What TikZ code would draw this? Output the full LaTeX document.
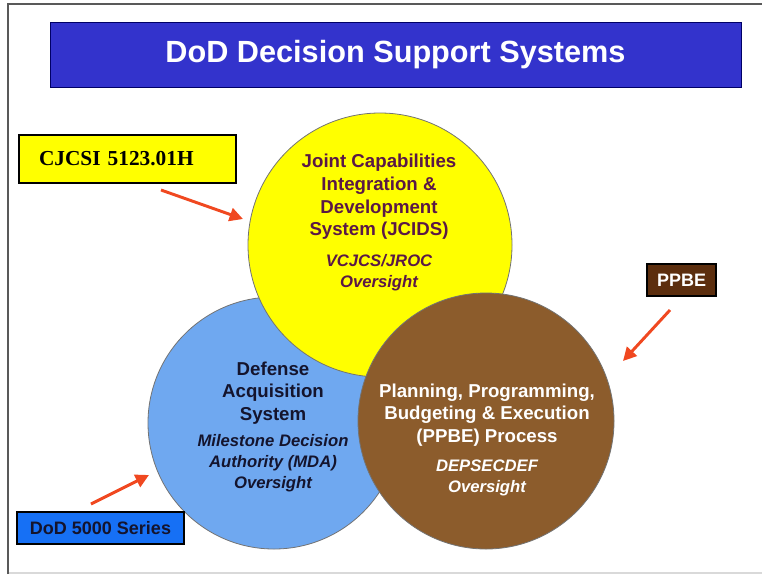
\documentclass[tikz,border=0pt]{standalone}
\usepackage{fontspec}
\setmainfont{Liberation Sans}
\newfontfamily\timesbold{Liberation Serif}
\usetikzlibrary{arrows.meta}
\definecolor{barblue}{RGB}{51,51,204}
\definecolor{jcidsyellow}{RGB}{255,255,0}
\definecolor{dasblue}{RGB}{111,168,240}
\definecolor{ppbebrown}{RGB}{140,92,44}
\definecolor{ppbedark}{RGB}{92,46,14}
\definecolor{seriesblue}{RGB}{22,112,245}
\definecolor{arrowred}{RGB}{240,72,32}
\definecolor{jcidstext}{RGB}{90,24,70}
\definecolor{dastext}{RGB}{20,20,45}

\begin{document}
\begin{tikzpicture}[x=0.75pt, y=-0.75pt,
        venn/.style={circle, draw=black!55, line width=0.6pt, inner sep=0pt},
        tagbox/.style={draw=black, line width=0.9pt, inner sep=0pt, minimum height=24pt, font=\bfseries\fontsize{13.5}{16}\selectfont},
        maintext/.style={align=center, inner sep=0pt, font=\bfseries\fontsize{14}{17}\selectfont},
        subtext/.style={align=center, inner sep=0pt, font=\bfseries\itshape\fontsize{12.5}{15.75}\selectfont},
        pointer/.style={draw=arrowred, line width=2.2pt, -{Triangle[length=10pt,width=10pt]}}]
        \useasboundingbox (0,0) rectangle (762,575);

        % Frame
        \draw[black!15, line width=1.5pt] (8,573) -- (762,573);
        \draw[black!65, line width=2pt] (8,574) -- (8,4) -- (762,4);

        % Title
        \node[draw=black!60!blue, fill=barblue, minimum width=518.25pt, minimum height=48.75pt, inner sep=0pt, text=white, font=\bfseries\fontsize{23}{27}\selectfont] at (395.5, 54.5)  (title)  {DoD Decision Support Systems};

        % Circles
        \node[venn, fill=dasblue, minimum size=189pt] at (274, 423)  (das)  {};
        \node[venn, fill=jcidsyellow, minimum size=198pt] at (380, 245)  (jcids)  {};
        \node[venn, fill=ppbebrown, minimum size=192pt] at (486, 421)  (ppbe)  {};

        % Texts in the circles
        \node[maintext, text=jcidstext] at (379, 197)  (jcidsname)  {Joint Capabilities\\Integration \&\\Development\\System (JCIDS)};
        \node[subtext, text=jcidstext] at (379, 272.5)  (jcidsboss)  {VCJCS/JROC\\Oversight};
        \node[maintext, text=dastext] at (273, 393)  (dasname)  {Defense\\Acquisition\\System};
        \node[subtext, text=dastext] at (273, 463.5)  (dasboss)  {Milestone Decision\\Authority (MDA)\\Oversight};
        \node[maintext, text=white] at (487, 415)  (ppbename)  {Planning, Programming,\\Budgeting \& Execution\\(PPBE) Process};
        \node[subtext, text=white] at (487, 478)  (ppbeboss)  {DEPSECDEF\\Oversight};

        % Tags
        \node[tagbox, fill=jcidsyellow, minimum height=36pt, inner xsep=15pt, text width=132.75pt, align=left, font=\timesbold\bfseries\fontsize{16}{19}\selectfont] at (127.5, 159)  (cjcsi)  {CJCSI 5123.01H};
        \node[tagbox, fill=ppbedark, minimum width=51.75pt, text=white] at (681.5, 280)  (ppbetag)  {PPBE};
        \node[tagbox, fill=seriesblue, minimum width=125.25pt, text=dastext] at (100.5, 528)  (series)  {DoD 5000 Series};

        % Arrows
        \coordinate (cjcsitail) at (161, 190);
        \coordinate (cjcsihead) at (243, 219);
        \coordinate (seriestail) at (91, 504);
        \coordinate (serieshead) at (149, 475);
        \coordinate (ppbetail) at (670, 310);
        \coordinate (ppbehead) at (623, 361);

        \draw[pointer]  (cjcsitail) -- (cjcsihead);
        \draw[pointer]  (seriestail) -- (serieshead);
        \draw[pointer]  (ppbetail) -- (ppbehead);
    \end{tikzpicture}
\end{document}
